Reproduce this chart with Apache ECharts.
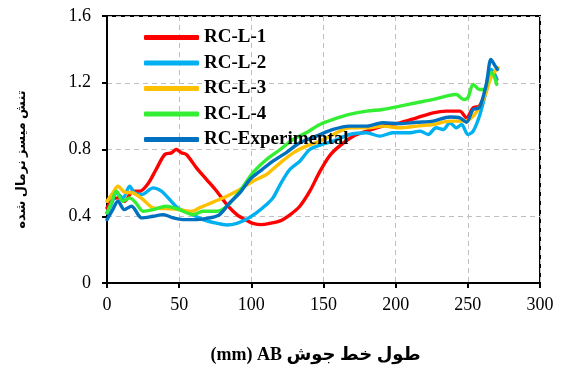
<!DOCTYPE html>
<html><head><meta charset="utf-8">
<script src="https://cdn.jsdelivr.net/npm/echarts@6/dist/echarts.min.js"></script>
<style>html,body{margin:0;padding:0;background:#fff}#c{width:562px;height:369px}</style>
</head><body><div id="c"></div>
<script>
const seriesNames = ['RC-L-1', 'RC-L-2', 'RC-L-3', 'RC-L-4', 'RC-Experimental'];
const xTicks = [0, 50, 100, 150, 200, 250, 300];
const yTicks = [0, 0.4, 0.8, 1.2, 1.6];

const rcL1 = [[0,0.45],[4,0.5],[7.6,0.51],[12,0.49],[18,0.55],[22.6,0.55],[28,0.59],[34,0.68],[40,0.77],[44.6,0.78],[48,0.80],[51.5,0.78],[55,0.77],[62,0.69],[69,0.62],[76,0.55],[83,0.47],[90,0.41],[96.6,0.376],[101,0.358],[107,0.35],[113,0.358],[120,0.372],[127,0.41],[133.6,0.46],[140.5,0.55],[147,0.66],[154,0.76],[161,0.82],[170.6,0.88],[180,0.91],[191,0.94],[203,0.96],[214.5,0.99],[226,1.02],[235,1.03],[244.5,1.03],[249,0.99],[253.7,1.05],[258,1.06],[263,1.16],[266.5,1.27],[268.5,1.25],[270,1.22]];
const rcL2 = [[0,0.42],[3,0.47],[6.5,0.54],[11,0.51],[15.7,0.58],[19,0.54],[24,0.53],[32,0.57],[37.7,0.55],[43.4,0.50],[49,0.45],[57,0.42],[66.5,0.38],[76,0.358],[83,0.348],[90,0.358],[96.6,0.382],[103.5,0.42],[110.5,0.47],[115,0.51],[120,0.59],[126.6,0.68],[133.6,0.73],[140.5,0.80],[147.5,0.826],[156.7,0.85],[168,0.89],[180,0.90],[189,0.88],[198,0.90],[210,0.90],[217,0.91],[222.5,0.89],[228,0.93],[233,0.92],[237.6,0.96],[242,0.93],[245.7,0.95],[250,0.89],[253.7,0.91],[258.4,1.01],[263,1.16],[266.5,1.28],[270,1.22]];
const rcL3 = [[0,0.49],[4,0.54],[7.6,0.58],[12,0.545],[18,0.54],[25,0.50],[32,0.45],[41,0.446],[50,0.44],[58.5,0.43],[64,0.45],[73.5,0.485],[83,0.52],[92,0.56],[101,0.61],[110.5,0.65],[120,0.72],[129,0.78],[138,0.82],[147.5,0.85],[156.7,0.89],[168,0.93],[180,0.93],[191,0.94],[203,0.93],[214.5,0.94],[226,0.95],[237.6,0.97],[247,0.97],[253.7,1.00],[260.7,1.10],[266.5,1.24],[271,1.29]];
const rcL4 = [[0,0.42],[3,0.48],[6.5,0.55],[11,0.49],[15.7,0.51],[20,0.48],[25,0.43],[32,0.44],[41,0.46],[50,0.44],[59.6,0.41],[66.5,0.43],[76,0.43],[83,0.46],[92,0.55],[101,0.66],[110.5,0.74],[120,0.80],[129,0.86],[138,0.90],[147.5,0.95],[156.7,0.98],[168,1.01],[180,1.03],[191,1.04],[203,1.06],[214.5,1.08],[226,1.10],[235,1.12],[242,1.13],[247,1.10],[250,1.11],[253.7,1.19],[258,1.16],[262,1.16],[264,1.24],[266.5,1.26],[270,1.19]];
const rcExp = [[0,0.38],[4,0.44],[7.6,0.49],[12,0.44],[17,0.46],[24,0.39],[32,0.40],[39,0.41],[46,0.39],[52.7,0.38],[62,0.38],[71,0.39],[78,0.41],[85,0.48],[92,0.54],[99,0.62],[106,0.67],[115,0.73],[124,0.78],[133.6,0.84],[145,0.88],[156.7,0.92],[168,0.94],[180,0.94],[191,0.96],[203,0.955],[214.5,0.963],[226,0.97],[237.6,0.995],[244.5,0.99],[249,0.963],[253.7,1.04],[258,1.05],[263,1.20],[266,1.34],[269,1.30],[270.5,1.28]];

const allData = [rcL1, rcL2, rcL3, rcL4, rcExp];
const colors = ['#ff0000', '#00b0f0', '#ffc000', '#33ee33', '#0070c0'];
const serif = '"Liberation Serif", "DejaVu Serif", serif';
const fa = '"Liberation Serif", "DejaVu Sans", sans-serif';

const chart = echarts.init(document.getElementById('c'));
chart.setOption({
  animation: false,
  grid: { left: 107, right: 22, top: 16, bottom: 85, show: true, borderColor: '#000', borderWidth: 2, backgroundColor: 'transparent' },
  legend: {
    orient: 'vertical', left: 139, top: 23, itemWidth: 55, itemHeight: 5, itemGap: 6.5,
    icon: 'roundRect',
    data: seriesNames,
    textStyle: { fontFamily: serif, fontWeight: 'bold', fontSize: 19, color: '#000', lineHeight: 18 }
  },
  xAxis: {
    type: 'value', min: 0, max: 300, interval: 50,
    name: '(mm) AB طول خط جوش', nameLocation: 'middle', nameGap: 63,
    nameTextStyle: { fontFamily: fa, fontWeight: 'bold', fontSize: 18, color: '#000', padding: [0, 16, 0, 0] },
    axisLine: { lineStyle: { color: '#000', width: 2 } },
    axisTick: { show: true, length: 5, lineStyle: { color: '#000', width: 2 } },
    axisLabel: { fontFamily: serif, fontSize: 18, color: '#000', margin: 13,
      formatter: v => xTicks.includes(v) ? String(v) : '' },
    splitLine: { show: true, lineStyle: { color: '#bfbfbf', type: [5, 4], width: 1 } }
  },
  yAxis: {
    type: 'value', min: 0, max: 1.6, interval: 0.4,
    name: 'تنش میسز نرمال شده', nameLocation: 'middle', nameGap: 79, nameRotate: 90,
    nameTextStyle: { fontFamily: fa, fontWeight: 'bold', fontSize: 13, color: '#000', padding: [0, 20, 0, 0] },
    axisLine: { lineStyle: { color: '#000', width: 2 } },
    axisTick: { show: true, length: 5, lineStyle: { color: '#000', width: 2 } },
    axisLabel: { fontFamily: serif, fontSize: 18, color: '#000', margin: 16,
      formatter: v => { const t = yTicks.find(k => Math.abs(k - v) < 1e-6); return t === undefined ? '' : (t === 0 ? '0' : t.toFixed(1)); } },
    splitLine: { show: true, lineStyle: { color: '#bfbfbf', type: [5, 4], width: 1 } }
  },
  series: seriesNames.map((n, i) => ({
    name: n, type: 'line', data: allData[i], symbol: 'none', smooth: 0.3,
    color: colors[i],
    lineStyle: { color: colors[i], width: 3.4, cap: 'round', join: 'round' }
  }))
});
</script></body></html>
